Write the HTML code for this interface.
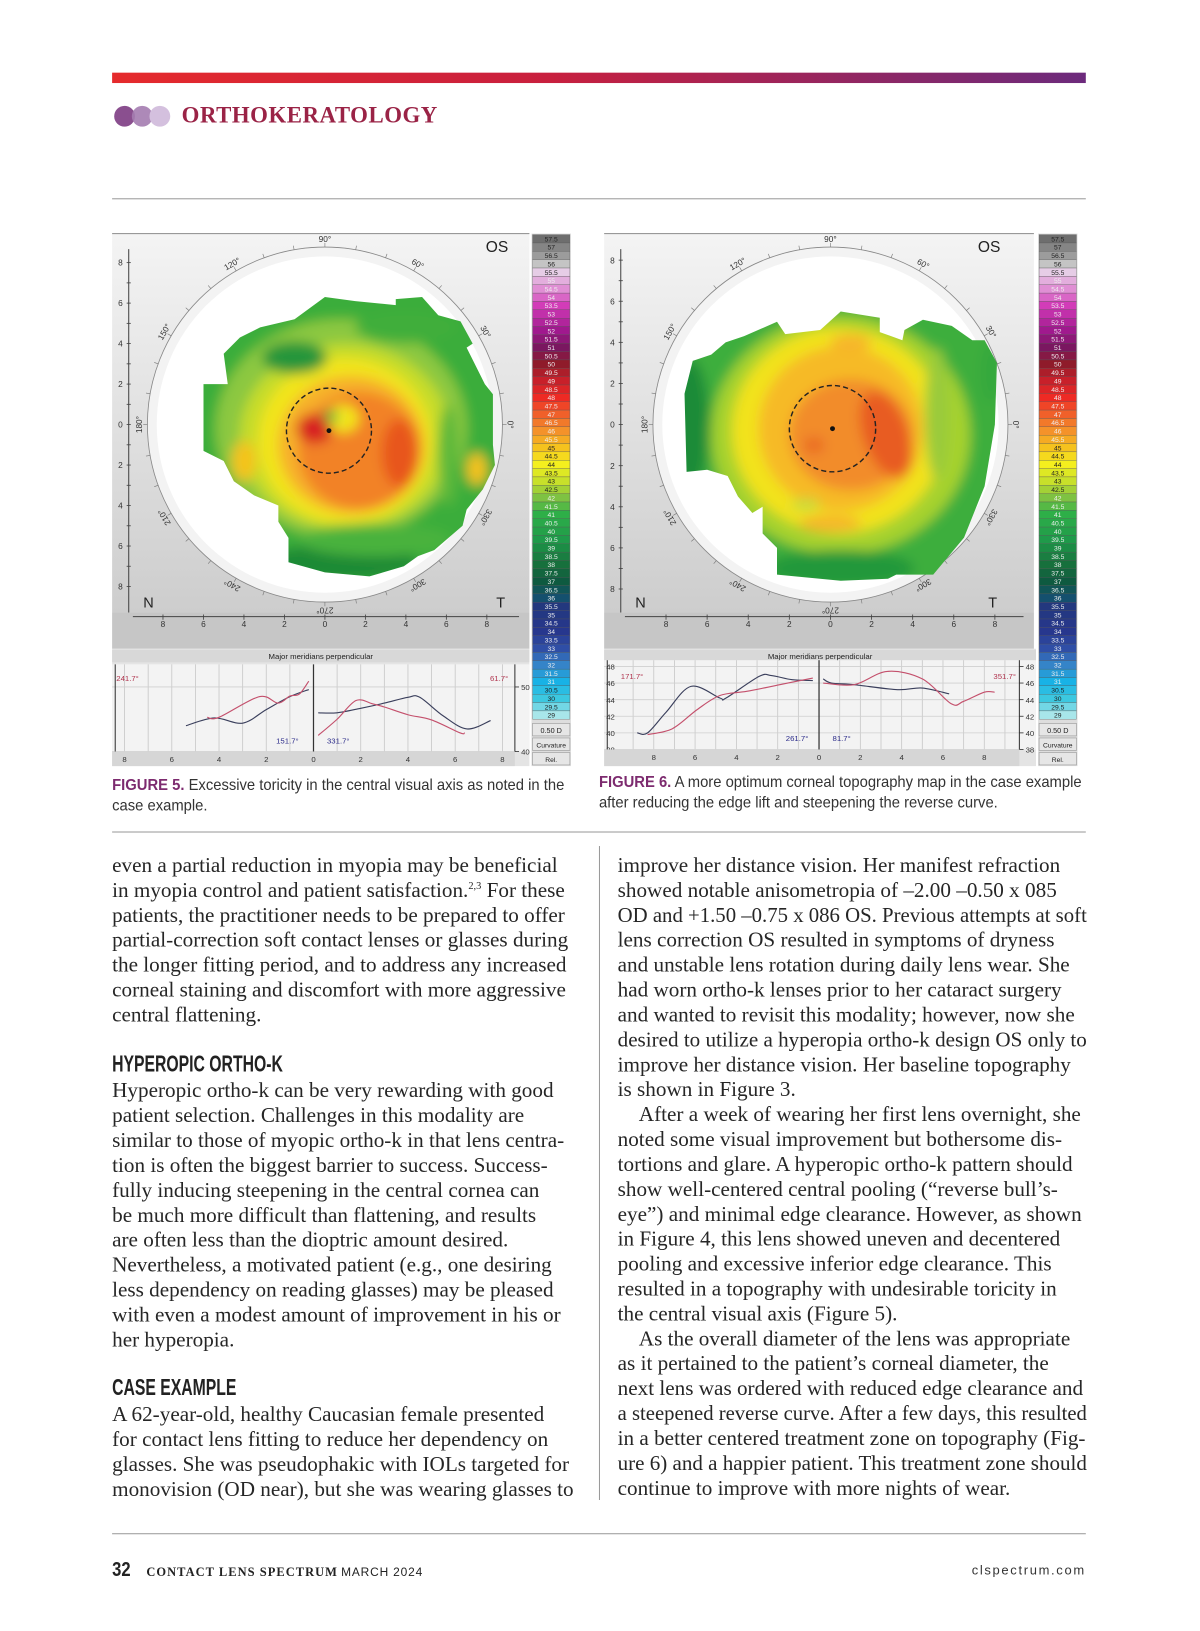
<!DOCTYPE html>
<html><head><meta charset="utf-8">
<style>
html,body{margin:0;padding:0;background:#fff;}
body{width:1200px;height:1631px;overflow:hidden;position:relative;}
#page{position:absolute;left:0;top:0;width:1156px;height:1571px;transform:scale(1.03806);transform-origin:0 0;font-family:"Liberation Serif",serif;color:#222;}
.abs{position:absolute;}
.txt{position:absolute;font-family:"Liberation Serif",serif;font-size:20.4px;line-height:24px;color:#262626;white-space:nowrap;}
.txt span.l{display:block;height:24px;transform-origin:0 50%;}
.hd{position:absolute;font-family:"Liberation Sans",sans-serif;font-weight:bold;font-size:22px;color:#222;white-space:nowrap;transform:scaleX(0.69);transform-origin:0 0;}
.cap{position:absolute;font-family:"Liberation Sans",sans-serif;font-size:15px;line-height:20px;color:#333;white-space:nowrap;transform:scaleX(0.95);transform-origin:0 0;}
.cap b{color:#7d2b6f;}
.rule{position:absolute;height:1px;background:#9a9a9a;}
sup{font-size:10px;line-height:0;}
</style></head>
<body>
<div id="page">
  <div class="abs" style="left:108px;top:70px;width:938px;height:10px;background:linear-gradient(90deg,#e52a2c,#c81f3e 45%,#8b2766 80%,#6c2a7c);"></div>
  <svg class="abs" style="left:108px;top:100px" width="62" height="24">
    <circle cx="12" cy="12" r="10" fill="#8a4f8f"/><circle cx="29" cy="12" r="10" fill="#a47cb0" opacity="0.9"/><circle cx="46" cy="12" r="10" fill="#d4c0de"/>
  </svg>
  <div class="abs" style="left:175px;top:98px;font-family:'Liberation Serif',serif;font-weight:bold;font-size:22px;letter-spacing:0.5px;color:#9a2346;">ORTHOKERATOLOGY</div>
  <div class="rule" style="left:108px;top:191px;width:938px;"></div>

  <svg id="figs" class="abs" style="left:0;top:0" width="1156" height="800"></svg>

  <div class="cap" style="left:108px;top:747px;"><b>FIGURE 5.</b> Excessive toricity in the central visual axis as noted in the<br>case example.</div>
  <div class="cap" style="left:577px;top:744px;"><b>FIGURE 6.</b> A more optimum corneal topography map in the case example<br>after reducing the edge lift and steepening the reverse curve.</div>
  <div class="rule" style="left:108px;top:801px;width:938px;"></div>
  <div class="abs" style="left:577px;top:815px;width:1px;height:630px;background:#9a9a9a;"></div>

  <div class="txt col" style="left:108px;top:822px;">
<span class="l">even a partial reduction in myopia may be beneficial</span>
<span class="l">in myopia control and patient satisfaction.<sup>2,3</sup> For these</span>
<span class="l">patients, the practitioner needs to be prepared to offer</span>
<span class="l">partial-correction soft contact lenses or glasses during</span>
<span class="l">the longer fitting period, and to address any increased</span>
<span class="l">corneal staining and discomfort with more aggressive</span>
<span class="l">central flattening.</span>
  </div>
  <div class="hd" style="left:108px;top:1012px;">HYPEROPIC ORTHO-K</div>
  <div class="txt col" style="left:108px;top:1039px;">
<span class="l">Hyperopic ortho-k can be very rewarding with good</span>
<span class="l">patient selection. Challenges in this modality are</span>
<span class="l">similar to those of myopic ortho-k in that lens centra-</span>
<span class="l">tion is often the biggest barrier to success. Success-</span>
<span class="l">fully inducing steepening in the central cornea can</span>
<span class="l">be much more difficult than flattening, and results</span>
<span class="l">are often less than the dioptric amount desired.</span>
<span class="l">Nevertheless, a motivated patient (e.g., one desiring</span>
<span class="l">less dependency on reading glasses) may be pleased</span>
<span class="l">with even a modest amount of improvement in his or</span>
<span class="l">her hyperopia.</span>
  </div>
  <div class="hd" style="left:108px;top:1324px;">CASE EXAMPLE</div>
  <div class="txt col" style="left:108px;top:1351px;">
<span class="l">A 62-year-old, healthy Caucasian female presented</span>
<span class="l">for contact lens fitting to reduce her dependency on</span>
<span class="l">glasses. She was pseudophakic with IOLs targeted for</span>
<span class="l">monovision (OD near), but she was wearing glasses to</span>
  </div>
  <div class="txt col" style="left:595px;top:822px;">
<span class="l">improve her distance vision. Her manifest refraction</span>
<span class="l">showed notable anisometropia of –2.00 –0.50 x 085</span>
<span class="l">OD and +1.50 –0.75 x 086 OS. Previous attempts at soft</span>
<span class="l">lens correction OS resulted in symptoms of dryness</span>
<span class="l">and unstable lens rotation during daily lens wear. She</span>
<span class="l">had worn ortho-k lenses prior to her cataract surgery</span>
<span class="l">and wanted to revisit this modality; however, now she</span>
<span class="l">desired to utilize a hyperopia ortho-k design OS only to</span>
<span class="l">improve her distance vision. Her baseline topography</span>
<span class="l">is shown in Figure 3.</span>
<span class="l">&nbsp;&nbsp;&nbsp;&nbsp;After a week of wearing her first lens overnight, she</span>
<span class="l">noted some visual improvement but bothersome dis-</span>
<span class="l">tortions and glare. A hyperopic ortho-k pattern should</span>
<span class="l">show well-centered central pooling (“reverse bull’s-</span>
<span class="l">eye”) and minimal edge clearance. However, as shown</span>
<span class="l">in Figure 4, this lens showed uneven and decentered</span>
<span class="l">pooling and excessive inferior edge clearance. This</span>
<span class="l">resulted in a topography with undesirable toricity in</span>
<span class="l">the central visual axis (Figure 5).</span>
<span class="l">&nbsp;&nbsp;&nbsp;&nbsp;As the overall diameter of the lens was appropriate</span>
<span class="l">as it pertained to the patient’s corneal diameter, the</span>
<span class="l">next lens was ordered with reduced edge clearance and</span>
<span class="l">a steepened reverse curve. After a few days, this resulted</span>
<span class="l">in a better centered treatment zone on topography (Fig-</span>
<span class="l">ure 6) and a happier patient. This treatment zone should</span>
<span class="l">continue to improve with more nights of wear.</span>
  </div>

  <div class="rule" style="left:108px;top:1477px;width:938px;"></div>
  <div class="abs" style="left:108px;top:1501px;font-family:'Liberation Sans',sans-serif;font-size:20px;font-weight:bold;color:#222;transform:scaleX(0.8);transform-origin:0 0;">32</div>
  <div class="abs" style="left:141px;top:1507px;font-size:12px;color:#222;white-space:nowrap;"><span style="font-family:'Liberation Serif',serif;font-weight:bold;letter-spacing:1px;">CONTACT LENS SPECTRUM</span> <span style="font-family:'Liberation Sans',sans-serif;letter-spacing:0.8px;font-size:11.5px;">MARCH 2024</span></div>
  <div class="abs" style="left:846px;width:200px;text-align:right;top:1506px;font-family:'Liberation Sans',sans-serif;font-size:12.5px;letter-spacing:1.6px;color:#333;">clspectrum.com</div>
</div>

<script>
// ---- Profile chart data (mm from center, diopters) ----
const f5LeftBlackMM = [5.4, 4.2, 3.0, 2.0, 1.0, 0.2];
const f5LeftBlackD  = [44.0, 45.2, 44.4, 46.5, 48.5, 49.6];
const f5LeftRedMM   = [4.5, 4.0, 2.3, 1.5, 1.0, 0.6, 0.2];
const f5LeftRedD    = [45.3, 45.3, 48.5, 47.5, 48.6, 48.9, 50.9];
const f5RightBlackMM= [0.2, 1.0, 2.0, 3.0, 4.0, 4.5, 5.5, 6.5, 7.5];
const f5RightBlackD = [46.0, 46.0, 46.7, 47.5, 48.4, 48.4, 45.5, 43.5, 44.8];
const f5RightRedMM  = [0.2, 1.0, 1.8, 2.5, 3.0, 4.0, 5.0, 6.2, 6.4];
const f5RightRedD   = [42.5, 45.0, 47.9, 47.4, 46.9, 45.7, 44.9, 42.9, 42.9];
const f6LeftBlackMM = [8.8, 8.3, 7.4, 6.2, 4.8, 4.5, 2.9, 2.3, 1.3, 0.3];
const f6LeftBlackD  = [40.0, 40.0, 42.5, 45.6, 44.2, 44.2, 46.8, 46.9, 46.4, 46.3];
const f6LeftRedMM   = [8.3, 7.1, 5.9, 4.8, 3.5, 1.9, 0.3];
const f6LeftRedD    = [39.8, 40.5, 42.8, 44.5, 45.0, 45.8, 46.6];
const f6RightBlackMM= [0.2, 0.6, 1.7, 3.8, 5.0, 6.3];
const f6RightBlackD = [46.5, 46.0, 45.8, 45.2, 45.4, 44.7];
const f6RightRedMM  = [0.2, 1.7, 3.3, 5.0, 6.4, 7.0, 8.0, 8.5];
const f6RightRedD   = [46.0, 45.8, 47.4, 46.5, 43.5, 43.8, 44.9, 44.9];
const f5YTicks = [50, 40];
const f6YTicks = [48, 46, 44, 42, 40, 38];
const xTickLabels = [8, 6, 4, 2, 0, 2, 4, 6, 8];
const scaleValues = [];
for (let v = 57.5; v >= 29; v -= 0.5) scaleValues.push(v);

const NS = 'http://www.w3.org/2000/svg';
const svg = document.getElementById('figs');
function mk(tag, attrs, parent) {
  const e = document.createElementNS(NS, tag);
  for (const k in attrs) e.setAttribute(k, attrs[k]);
  (parent || svg).appendChild(e);
  return e;
}
function txt(x, y, s, attrs, parent) {
  const t = mk('text', Object.assign({x: x, y: y, 'font-family': 'Liberation Sans, sans-serif'}, attrs), parent);
  t.textContent = s;
  return t;
}

const defs = mk('defs', {});
const lg = mk('linearGradient', {id: 'panelbg', x1: 0, y1: 0, x2: 0, y2: 1}, defs);
mk('stop', {offset: '0', 'stop-color': '#f4f4f4'}, lg);
mk('stop', {offset: '1', 'stop-color': '#cdcdcd'}, lg);
const flt = mk('filter', {id: 'blur', x: '-20%', y: '-20%', width: '140%', height: '140%'}, defs);
mk('feGaussianBlur', {stdDeviation: '0.3'}, flt);

function colorFor(v) {
  const stops = [[57.5,'#6e6e6e'],[56.5,'#9c9c9c'],[56,'#c4c4c4'],[55.5,'#e6cde6'],[54.5,'#e08fd4'],[53.5,'#d23cb8'],[52,'#a0198e'],[51,'#7a1760'],[50,'#8f1b2a'],[49,'#c8202a'],[48,'#ee2a24'],[47,'#f0602a'],[46,'#f4922a'],[45,'#f5c21e'],[44,'#f4ef1e'],[43,'#c8e02a'],[42,'#7ec242'],[41,'#2eaf48'],[39.5,'#1f9a4a'],[38,'#17703c'],[37,'#0e5a40'],[36,'#14506e'],[35.5,'#23387e'],[34,'#27378e'],[33,'#2f4ea6'],[32,'#3584c8'],[31,'#18b2e6'],[30,'#3cc8e0'],[29,'#a8e6ea']];
  for (let i = 0; i < stops.length - 1; i++) {
    if (v <= stops[i][0] && v >= stops[i+1][0]) {
      const a = stops[i], b = stops[i+1];
      const t = (a[0] - v) / (a[0] - b[0]);
      const ca = parseInt(a[1].slice(1),16), cb = parseInt(b[1].slice(1),16);
      const ch = s => Math.round(((ca>>s)&255)*(1-t) + ((cb>>s)&255)*t);
      return 'rgb(' + ch(16) + ',' + ch(8) + ',' + ch(0) + ')';
    }
  }
  return '#999';
}

function drawMap(cfg) {
  const g = mk('g', {});
  
  
  mk('rect', {x: cfg.px, y: 225, width: cfg.pw, height: 365, fill: 'url(#panelbg)'}, g);
  mk('rect', {x: cfg.px, y: 590, width: cfg.pw, height: 35, fill: '#c6c6c6'}, g);
  mk('line', {x1: cfg.px, y1: 225, x2: cfg.px + cfg.pw, y2: 225, stroke: '#999', 'stroke-width': 1}, g);
  const cx = cfg.cx, cy = 409, u = cfg.u;
  mk('line', {x1: cfg.px + 16, y1: 240, x2: cfg.px + 16, y2: 590, stroke: '#444', 'stroke-width': 1}, g);
  for (let v = -8; v <= 8; v += 1) {
    const y = cy - v * u;
    mk('line', {x1: cfg.px + 14, y1: y, x2: cfg.px + 18, y2: y, stroke: '#444', 'stroke-width': 0.8}, g);
    if (v % 2 === 0) txt(cfg.px + 8, y + 3, String(Math.abs(v)), {'font-size': 8, fill: '#333', 'text-anchor': 'middle'}, g);
  }
  mk('line', {x1: cfg.px + 20, y1: 594, x2: cfg.px + cfg.pw - 10, y2: 594, stroke: '#444', 'stroke-width': 1}, g);
  for (let i = 0; i < xTickLabels.length; i++) {
    const v = (i - 4) * 2;
    const x = cx + v * u;
    mk('line', {x1: x, y1: 592, x2: x, y2: 597, stroke: '#444', 'stroke-width': 0.8}, g);
    txt(x, 604, String(xTickLabels[i]), {'font-size': 8, fill: '#333', 'text-anchor': 'middle'}, g);
  }
  mk('circle', {cx: cx, cy: cy, r: 171, fill: '#f3f3f3', stroke: '#888', 'stroke-width': 0.8}, g);
  mk('circle', {cx: cx, cy: cy, r: 162, fill: '#fff', stroke: 'none'}, g);
  for (let a = 0; a < 360; a += 10) {
    const r = a * Math.PI / 180;
    mk('line', {x1: cx + 171 * Math.cos(r), y1: cy - 171 * Math.sin(r), x2: cx + 175 * Math.cos(r), y2: cy - 175 * Math.sin(r), stroke: '#777', 'stroke-width': 0.6}, g);
  }
  for (let a = 0; a < 360; a += 30) {
    const r = a * Math.PI / 180;
    const x = cx + 179 * Math.cos(r), y = cy - 179 * Math.sin(r);
    txt(x, y + 3, a + '°', {'font-size': 8, fill: '#333', 'text-anchor': 'middle', transform: 'rotate(' + (90 - a) + ' ' + x + ' ' + y + ')'}, g);
  }
  const cp = mk('clipPath', {id: cfg.name + '-clip'}, defs);
  mk('polygon', {points: cfg.poly.map(p => p.join(',')).join(' ')}, cp);
  const mg = mk('g', {transform: 'translate(' + cx + ',' + cy + ') scale(' + u + ')'}, g);
  const cg = mk('g', {'clip-path': 'url(#' + cfg.name + '-clip)'}, mg);
  const bg = mk('g', {filter: 'url(#blur)'}, cg);
  mk('rect', {x: -10, y: -10, width: 20, height: 20, fill: cfg.base}, bg);
  cfg.blobs.forEach(b => mk('ellipse', {cx: b[0], cy: b[1], rx: b[2], ry: b[3], fill: b[4], transform: 'rotate(' + (b[5] || 0) + ' ' + b[0] + ' ' + b[1] + ')'}, bg));
  mk('circle', {cx: cfg.dc[0], cy: cfg.dc[1], r: 2.1, fill: 'none', stroke: '#222', 'stroke-width': 0.07, 'stroke-dasharray': '0.25 0.15'}, mg);
  mk('circle', {cx: cfg.dc[0], cy: cfg.dc[1], r: 0.12, fill: '#111'}, mg);
  txt(cfg.px + 360, 243, 'OS', {'font-size': 15, fill: '#222'}, g);
  txt(cfg.px + 30, 585, 'N', {'font-size': 14, fill: '#222'}, g);
  txt(cfg.px + 370, 585, 'T', {'font-size': 14, fill: '#222'}, g);
}

drawMap({name: 'figure-5-topography-map', px: 108, pw: 402, cx: 313, u: 19.5, base: '#3aad3a', dc: [0.2, 0.3],
  poly: [[0,-6.3],[1.5,-6.1],[3.5,-5.9],[3.5,-6.2],[4.8,-6.3],[5.6,-5.4],[6.7,-5.1],[7.3,-4],[7,-3.8],[7.9,-2],[8.3,-1.5],[8.3,1],[8.4,2],[7.8,3.2],[7,4.2],[6.8,5],[5.4,6.2],[4.6,6.5],[3.9,7],[2.2,7.5],[0,7.3],[-1.8,6.8],[-1.8,5.6],[-2.3,4.8],[-2.3,4],[-3.5,3.5],[-4.5,2.8],[-5,1.8],[-6,1.3],[-6,-2],[-4.8,-2],[-5,-3.5],[-4.2,-4.3],[-3.2,-4.8],[-1.5,-5.2]],
  blobs: [[0.8,0.2,6.2,5.4,'#8cc840'],[1,0.6,5.2,4.6,'#c6dc2c'],[1,0.8,4.3,4.1,'#f2e41c'],[1.3,1.0,3.6,3.4,'#f6b02a'],[1.7,1.3,3.0,2.9,'#f28228'],[3.7,1.4,0.9,1.7,'#e8561f'],[-0.5,0.2,0.9,0.75,'#d82222'],[0.9,-0.3,0.8,0.7,'#f2e41c'],[0.3,-0.4,0.35,0.3,'#4cb43c'],[-1.5,-3.3,1.6,0.8,'#27963a'],[0.8,6.8,3.8,0.9,'#1c8a36'],[2.5,5.7,3.8,0.8,'#48b23c'],[-4,1.8,0.6,1.0,'#f5c31c'],[6.1,1.5,0.5,2.5,'#5cb83a'],[7.5,2.2,0.5,0.8,'#f5c21e'],[4,-4.8,2.5,0.8,'#3fae3a']]});

drawMap({name: 'figure-6-topography-map', px: 582, pw: 414, cx: 800, u: 19.8, base: '#3cae3c', dc: [0.1, 0.2],
  poly: [[-7.1,-1.5],[-6.7,-3.1],[-5.8,-3.4],[-5.1,-4],[-4.2,-4.3],[-2.6,-5],[-2.2,-4.4],[-0.5,-4.6],[0.5,-5.5],[2.4,-5.2],[2.4,-4.5],[3.5,-4.1],[3.6,-4.6],[4.5,-5.1],[5.9,-4.8],[6.9,-4.1],[7.5,-4.1],[8.1,-3],[8,0],[7.5,3],[6.5,5.5],[5,7.3],[3.2,7.3],[2.8,7.5],[0.5,7.6],[-2.6,7.3],[-2.6,6],[-3.3,5.3],[-3.3,4],[-3.8,4.3],[-4.5,3.5],[-5,2.5],[-6,2.2],[-7,2.3]],
  blobs: [[-6.8,0,0.9,3.2,'#1f8b38'],[0.5,0.5,6.3,5.8,'#a6d22e'],[0.4,0.3,5.2,5.0,'#f2e21a'],[0.5,0.2,4.0,4.0,'#f6ba28'],[1.0,0.5,3.0,2.7,'#f28c2a'],[2.7,0.5,1.1,2.2,'#e85b22',-20],[-0.8,1,0.5,0.4,'#ea6a26'],[5.2,-0.5,0.6,3.2,'#9acb3a'],[7.8,-2.5,0.5,1.5,'#36a83c'],[0.5,7.0,3.6,0.9,'#22983a'],[-1.2,3.9,0.7,0.3,'#c8dc3a'],[0,4.8,1.5,0.4,'#f6b52a'],[1,-4,1,0.4,'#f6b52a']]});

function drawScale(x, name) {
  const g = mk('g', {});
  
  
  const top = 226, h = 8.05;
  mk('rect', {x: x - 1, y: top - 1, width: 38, height: 513, fill: '#ddd'}, g);
  scaleValues.forEach((v, i) => {
    const y = top + i * h;
    mk('rect', {x: x, y: y, width: 36, height: h, fill: colorFor(v), stroke: '#555', 'stroke-width': 0.3}, g);
    const light = (v <= 45 && v >= 42.5) || v >= 55.5 || v < 31;
    txt(x + 18, y + 6.5, String(v), {'font-size': 6.5, fill: light ? '#222' : '#eee', 'text-anchor': 'middle'}, g);
  });
  const by = top + scaleValues.length * h + 4;
  ['0.50 D', 'Curvature', 'Rel.'].forEach((s, i) => {
    mk('rect', {x: x, y: by + i * 14, width: 36, height: 12, fill: '#e6e6e6', stroke: '#999', 'stroke-width': 0.6}, g);
    txt(x + 18, by + i * 14 + 9, s, {'font-size': i === 0 ? 7 : 6.5, fill: '#222', 'text-anchor': 'middle'}, g);
  });
}
drawScale(513, 'figure-5-color-scale');
drawScale(1001, 'figure-6-color-scale');

function smoothPath(pts) {
  let d = 'M' + pts[0][0] + ',' + pts[0][1];
  for (let i = 0; i < pts.length - 1; i++) {
    const p0 = pts[i - 1] || pts[i], p1 = pts[i], p2 = pts[i + 1], p3 = pts[i + 2] || p2;
    const c1 = [p1[0] + (p2[0] - p0[0]) / 6, p1[1] + (p2[1] - p0[1]) / 6];
    const c2 = [p2[0] - (p3[0] - p1[0]) / 6, p2[1] - (p3[1] - p1[1]) / 6];
    d += ' C' + c1.join(',') + ' ' + c2.join(',') + ' ' + p2.join(',');
  }
  return d;
}
function drawProfile(c) {
  const g = mk('g', {});
  
  
  mk('rect', {x: c.x0, y: 625, width: c.x1 - c.x0, height: 113, fill: '#e4e4e4'}, g);
  mk('rect', {x: c.x0, y: 626, width: c.x1 - c.x0, height: 12, fill: '#d8d8d8'}, g);
  txt((c.x0 + c.x1) / 2, 635, 'Major meridians perpendicular', {'font-size': 7.5, fill: '#222', 'text-anchor': 'middle'}, g);
  mk('rect', {x: c.x0, y: c.pt, width: c.x1 - c.x0, height: c.pb - c.pt, fill: '#f3f3f3'}, g);
  const xL = mm => c.cx - mm * c.u, xR = mm => c.cx + mm * c.u;
  const y = d => c.pb - (d - c.dmin) / (c.dmax - c.dmin) * (c.pb - c.pt);
  for (let m = 1; m <= 9; m++) {
    [xL(m), xR(m)].forEach(x => { if (x > c.x0 && x < c.ax) mk('line', {x1: x, y1: c.pt, x2: x, y2: c.pb, stroke: '#c8c8c8', 'stroke-width': 0.8}, g); });
  }
  c.yt.forEach(t => {
    mk('line', {x1: c.x0, y1: y(t), x2: c.ax, y2: y(t), stroke: '#cfcfcf', 'stroke-width': 0.8}, g);
    mk('line', {x1: c.ax, y1: y(t), x2: c.ax + 4, y2: y(t), stroke: '#333', 'stroke-width': 0.8}, g);
    txt(c.ax + 6, y(t) + 3, String(t), {'font-size': 7.5, fill: '#333'}, g);
    if (c.leftLabels) txt(c.x0 + 2, y(t) + 3, String(t), {'font-size': 7.5, fill: '#333'}, g);
  });
  mk('line', {x1: c.cx, y1: c.pt, x2: c.cx, y2: c.pb, stroke: '#333', 'stroke-width': 1.2}, g);
  mk('line', {x1: c.ax, y1: c.pt, x2: c.ax, y2: c.pb, stroke: '#333', 'stroke-width': 1}, g);
  mk('line', {x1: c.x0 + 3, y1: c.pt, x2: c.x0 + 3, y2: c.pb, stroke: '#333', 'stroke-width': 1}, g);
  mk('rect', {x: c.x0, y: c.pb, width: c.ax - c.x0, height: 738 - c.pb, fill: '#d6d6d6'}, g);
  xTickLabels.forEach((l, i) => {
    const v = (i - 4) * 2;
    const x = v < 0 ? xL(-v) : xR(v);
    txt(x, c.pb + 10, String(l), {'font-size': 7.5, fill: '#333', 'text-anchor': 'middle'}, g);
  });
  const series = [
    [c.lbM, c.lbD, xL, '#3a3f5c', 'black-left'], [c.lrM, c.lrD, xL, '#c4506c', 'red-left'],
    [c.rbM, c.rbD, xR, '#3a3f5c', 'black-right'], [c.rrM, c.rrD, xR, '#c4506c', 'red-right']];
  series.forEach(s => {
    const pts = s[0].map((m, i) => [s[2](m), y(s[1][i])]);
    const p = mk('path', {d: smoothPath(pts), fill: 'none', stroke: s[3], 'stroke-width': 1.1}, g);
    
    
  });
  c.labels.forEach(l => txt(l[0], l[1], l[2], {'font-size': 7.5, fill: l[3]}, g));
}
drawProfile({name: 'figure-5-profile-chart', x0: 108, x1: 510, ax: 496, cx: 302, u: 22.75, pt: 640, pb: 724, dmin: 40, dmax: 53.5, yt: f5YTicks,
  lbM: f5LeftBlackMM, lbD: f5LeftBlackD, lrM: f5LeftRedMM, lrD: f5LeftRedD, rbM: f5RightBlackMM, rbD: f5RightBlackD, rrM: f5RightRedMM, rrD: f5RightRedD,
  labels: [[112, 656, '241.7°', '#b0344e'], [472, 656, '61.7°', '#b0344e'], [266, 716, '151.7°', '#2c2c8a'], [315, 716, '331.7°', '#2c2c8a']]});
drawProfile({name: 'figure-6-profile-chart', x0: 582, x1: 998, ax: 982, cx: 789, u: 19.9, pt: 636, pb: 722, dmin: 38, dmax: 48.75, yt: f6YTicks, leftLabels: true,
  lbM: f6LeftBlackMM, lbD: f6LeftBlackD, lrM: f6LeftRedMM, lrD: f6LeftRedD, rbM: f6RightBlackMM, rbD: f6RightBlackD, rrM: f6RightRedMM, rrD: f6RightRedD,
  labels: [[598, 654, '171.7°', '#b0344e'], [957, 654, '351.7°', '#b0344e'], [757, 714, '261.7°', '#2c2c8a'], [802, 714, '81.7°', '#2c2c8a']]});

document.querySelectorAll('.col').forEach(col => {
  col.querySelectorAll('span.l').forEach(s => {
    s.style.display = 'inline-block';
    const w = s.getBoundingClientRect().width / 1.03806;
    const max = col.style.left === '108px' ? 448 : 452;
    if (w > max) s.style.transform = 'scaleX(' + (max / w) + ')';
    s.style.display = 'block';
  });
});
</script>
</body></html>
